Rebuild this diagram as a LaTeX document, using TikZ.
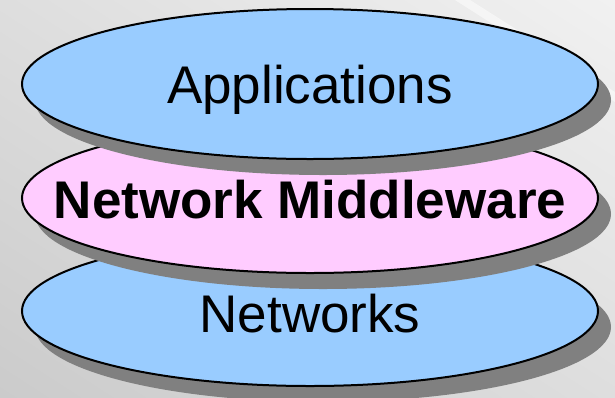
\documentclass[tikz,border=0pt]{standalone}
\usepackage{fontspec}
\setmainfont{Liberation Sans}
\usetikzlibrary{shapes.geometric,shadows,shadings}

\definecolor{layerblue}{HTML}{99CCFF}
\definecolor{layerpink}{HTML}{FFCCFF}
\definecolor{shadowgray}{HTML}{808080}
\definecolor{bgdark}{HTML}{CBCBCB}
\definecolor{bgmid}{HTML}{DEDEDE}
\definecolor{bglight}{HTML}{F1F1F1}

\tikzset{
  layer/.style={ellipse, draw=black, line width=2pt, inner sep=0pt,
    minimum width=576pt, minimum height=150pt,
    drop shadow={shadow xshift=13pt, shadow yshift=-16pt,
      fill=shadowgray, opacity=1}},
  layertext/.style={anchor=base, inner sep=0pt,
    font=\fontsize{53pt}{60pt}\selectfont},
}

\begin{document}
\begin{tikzpicture}[x=1pt, y=-1pt]
  % backdrop
  \useasboundingbox (0,0) rectangle (615,397);
  \shade[lower left=bgdark, upper left=bgmid, upper right=bglight,
         lower right=bgmid] (0,0) rectangle (615,397);
  \fill[white, opacity=0.5] (455,0) -- (470,0) -- (615,92) -- (615,102) -- cycle;

  % stack of layers, drawn from the bottom up
  \node[layer, fill=layerblue] (net) at (310,311) {};
  \node[layer, fill=layerpink] (mid) at (310,198) {};
  \node[layer, fill=layerblue] (app) at (310,84) {};

  % layer labels
  \node[layertext] (nettext) at (310,332) {Networks};
  \node[layertext] (midtext) at (310,218) {\textbf{Network Middleware}};
  \node[layertext] (apptext) at (310,103) {Applications};
\end{tikzpicture}
\end{document}
